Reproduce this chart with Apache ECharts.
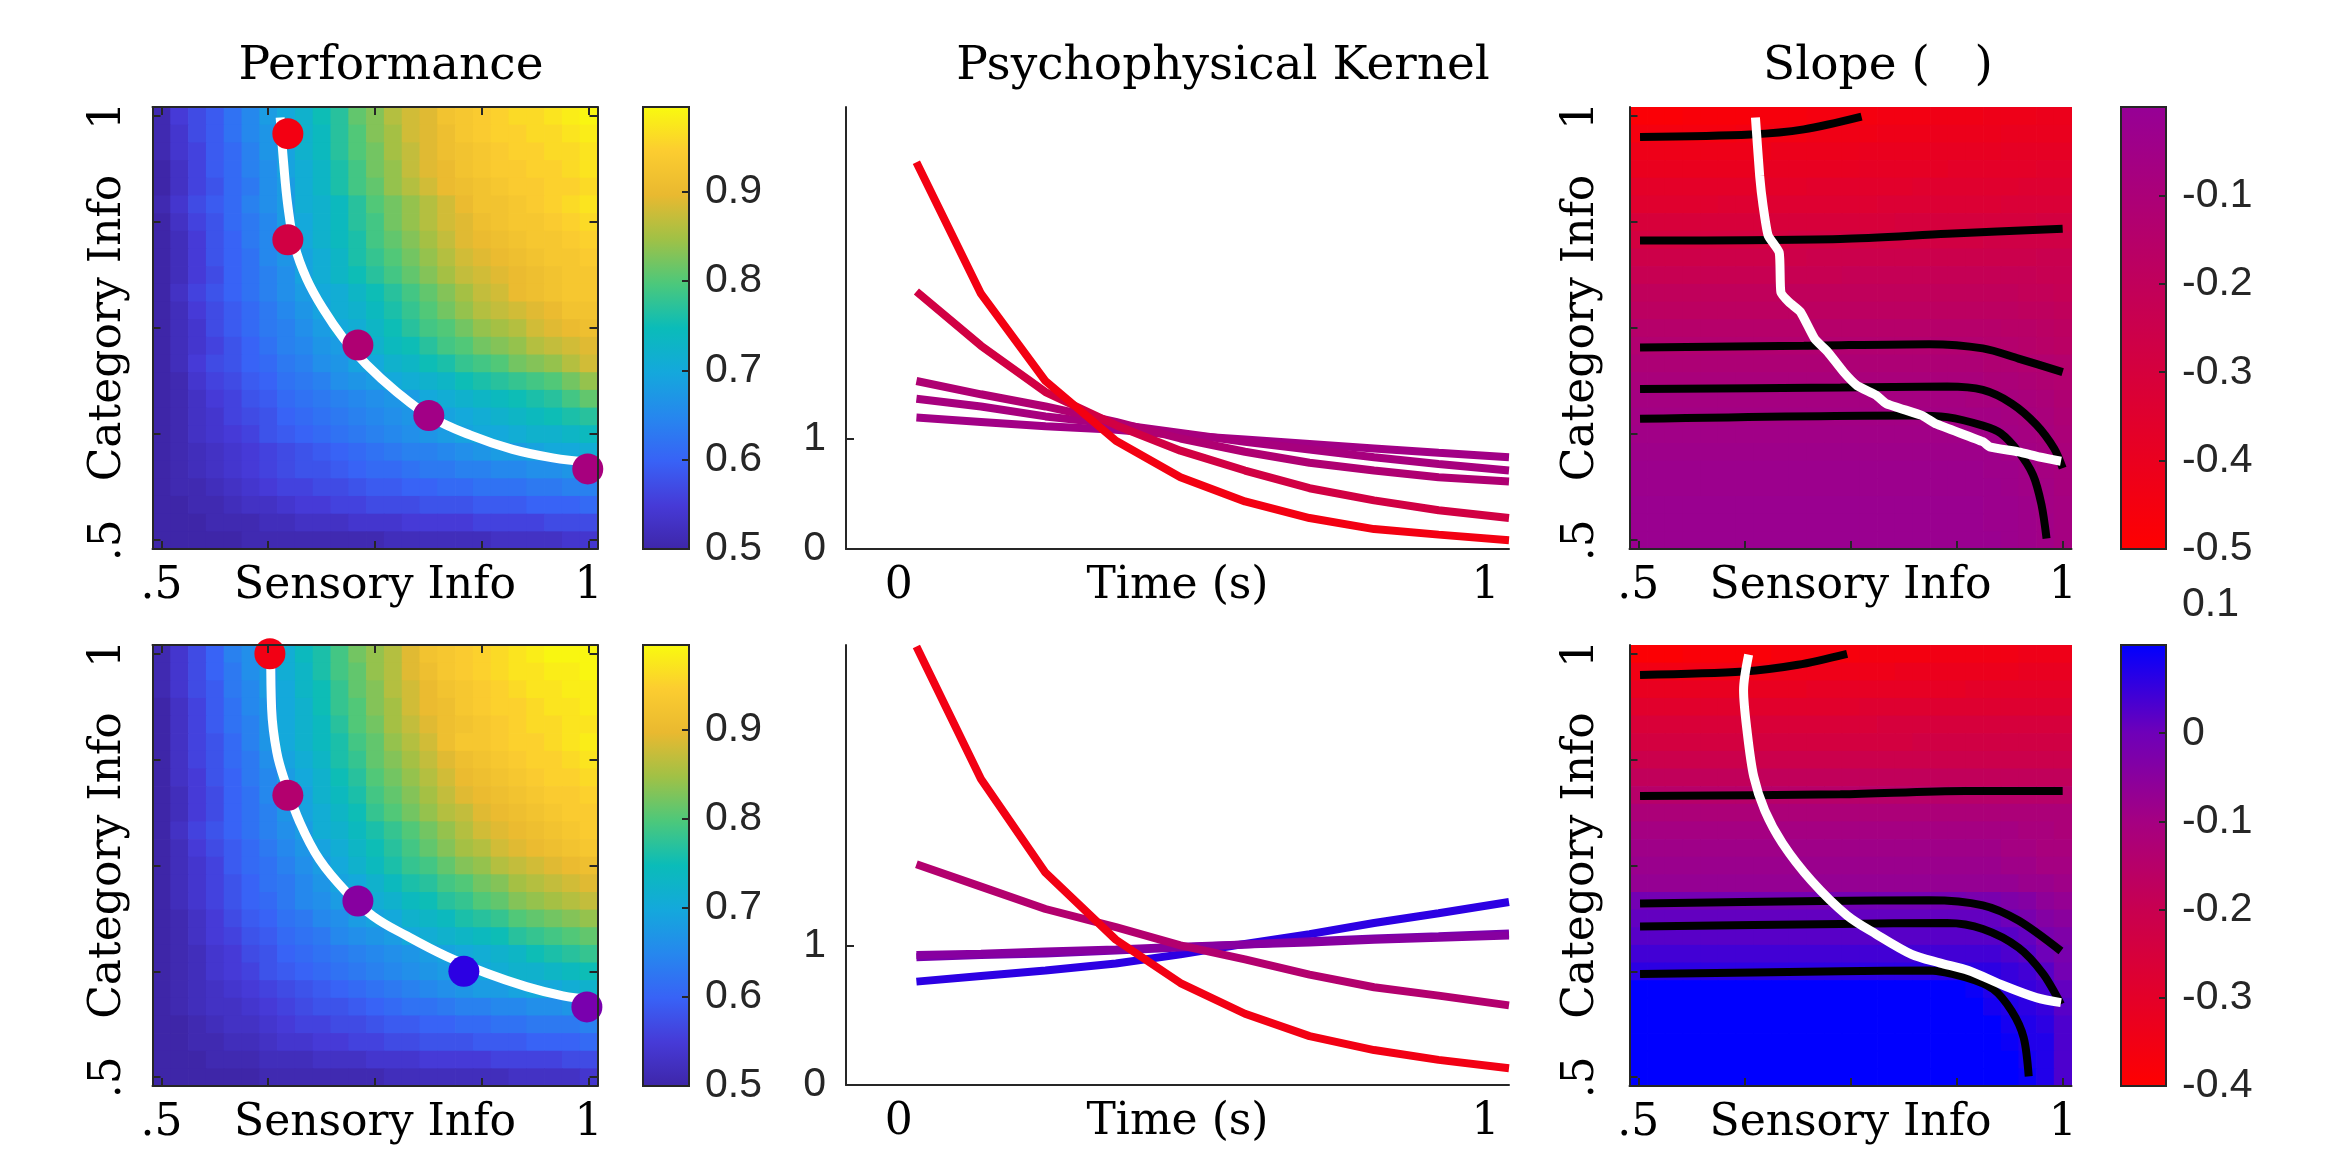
<!DOCTYPE html>
<html>
<head>
<meta charset="utf-8">
<script src="https://cdn.jsdelivr.net/npm/echarts@6/dist/echarts.min.js"></script>
<style>
  html, body { margin: 0; padding: 0; background: #ffffff; }
  #chart { width: 2333px; height: 1149px; }
</style>
</head>
<body>
<div id="chart"></div>
<script>
// ---------------------------------------------------------------------------
// Data
// ---------------------------------------------------------------------------

// Sampled information levels (same grid for sensory and category info)
const infoLevels = [0.5, 0.5208, 0.5417, 0.5625, 0.5833, 0.6042, 0.625, 0.6458, 0.6667,
  0.6875, 0.7083, 0.7292, 0.75, 0.7708, 0.7917, 0.8125, 0.8333, 0.8542, 0.875, 0.8958,
  0.9167, 0.9375, 0.9583, 0.9792, 1.0];

// Performance (percent correct), one row per category level, top row = category info 1
const perfTopRows = [
  '51 55 57 59 62 65 68 70 72 75 77 81 83 86 88 89 92 93 94 95 96 96 97 98 99',
  '51 54 57 59 62 65 67 70 72 74 77 80 83 85 88 89 91 93 94 95 95 96 96 97 98',
  '51 54 56 59 61 64 67 69 72 74 77 80 82 85 87 89 91 92 93 94 95 95 96 96 97',
  '50 53 56 59 61 64 66 69 71 73 76 79 82 84 87 89 90 92 93 94 94 95 95 96 97',
  '50 53 56 58 61 63 66 68 71 73 76 79 81 84 86 88 90 91 92 93 94 94 95 95 96',
  '51 54 57 59 61 64 66 68 71 72 74 77 80 82 84 86 88 90 92 92 93 94 95 96 97',
  '50 53 56 58 61 63 65 68 70 72 74 77 79 82 84 86 88 89 91 92 93 93 94 95 96',
  '50 52 55 58 60 63 65 67 70 72 74 76 79 81 83 85 87 89 90 91 92 93 93 94 95',
  '50 52 55 58 60 62 65 67 69 71 73 76 78 80 82 84 86 88 89 90 91 92 93 93 94',
  '50 52 55 57 60 62 64 66 69 71 73 75 77 79 81 83 85 87 88 89 90 91 92 93 93',
  '50 53 56 58 60 62 64 66 68 70 71 73 75 77 79 81 83 85 87 88 90 91 92 93 93',
  '50 52 55 57 59 61 63 65 67 69 71 72 74 76 78 80 82 84 86 87 88 89 90 92 92',
  '50 52 54 57 59 61 63 64 66 68 70 71 73 75 77 79 80 82 84 85 86 88 89 90 91',
  '50 52 54 56 58 60 62 64 65 67 68 70 72 74 75 77 79 80 82 83 84 86 87 88 89',
  '50 52 55 57 58 60 61 63 64 66 67 69 70 72 73 75 76 78 79 80 82 83 84 86 88',
  '50 51 54 56 57 59 60 62 63 64 66 67 68 70 71 72 73 75 76 77 78 79 80 82 84',
  '50 51 53 55 56 58 59 61 62 63 64 65 66 67 68 70 71 72 73 74 75 76 77 79 81',
  '50 51 53 54 56 57 58 60 61 62 63 64 65 66 67 68 69 70 71 72 73 74 75 76 77',
  '50 51 53 54 55 56 58 59 60 61 62 63 64 65 66 67 68 69 70 70 71 72 72 73 74',
  '50 51 52 53 54 55 56 57 58 59 60 61 62 63 64 64 65 66 67 68 68 69 70 70 71',
  '50 51 52 53 54 55 56 57 58 58 59 60 61 61 62 63 63 64 64 65 65 66 66 67 68',
  '50 51 51 52 53 54 55 56 56 57 57 58 59 59 60 60 61 61 62 62 62 63 63 64 64',
  '50 50 51 51 52 53 53 54 55 55 56 56 57 57 57 58 58 58 59 59 59 60 60 60 61',
  '50 50 50 51 51 51 52 52 53 53 53 54 54 54 55 55 55 55 56 56 56 56 57 57 57',
  '50 50 50 50 50 51 51 51 51 51 51 51 51 52 52 52 52 52 52 53 53 53 53 54 54'
];

const perfBottomRows = [
  '51 54 57 60 64 66 68 71 74 76 79 82 84 86 89 92 93 94 95 96 97 98 99 99 99',
  '51 54 57 60 63 66 68 71 73 76 79 81 84 86 89 91 93 94 95 96 97 97 98 98 99',
  '51 54 57 59 63 65 68 70 73 75 78 81 83 86 88 90 92 93 94 95 96 97 97 98 98',
  '50 53 56 59 62 65 67 70 72 75 78 80 83 85 88 90 91 93 94 95 95 96 97 97 98',
  '50 53 56 59 62 64 67 70 72 74 77 80 82 85 87 89 91 92 93 94 95 96 96 97 97',
  '50 53 56 58 61 64 67 70 72 74 76 79 81 84 86 88 91 93 93 94 95 95 96 97 98',
  '50 53 56 58 61 63 66 69 71 73 76 78 81 83 85 87 89 91 92 93 94 95 95 96 97',
  '50 53 55 58 60 63 65 68 70 72 75 77 80 82 84 86 88 90 91 92 93 94 95 95 96',
  '50 52 55 57 60 62 65 67 69 72 74 76 79 81 83 85 87 89 90 91 92 93 94 94 95',
  '50 52 55 57 60 62 64 67 69 71 73 75 78 80 82 84 86 87 89 90 91 92 93 94 94',
  '50 53 56 58 60 62 64 66 68 71 72 74 76 78 80 82 84 86 88 89 90 91 92 93 94',
  '50 52 55 57 59 61 63 65 67 69 71 73 75 77 79 81 83 85 86 88 89 90 91 92 93',
  '50 52 54 56 59 61 62 64 66 68 70 72 74 76 78 79 81 83 84 86 87 88 89 90 91',
  '50 52 54 56 58 60 62 63 65 67 69 70 72 74 76 77 79 80 82 83 85 86 87 88 89',
  '50 52 54 56 58 60 61 63 65 66 68 69 71 72 74 75 77 78 80 81 83 84 85 86 87',
  '50 51 53 55 57 59 60 62 63 65 66 68 69 70 72 73 74 76 77 78 80 81 82 83 84',
  '50 51 53 55 56 58 59 61 62 63 65 66 67 68 70 71 72 73 74 75 77 78 79 80 81',
  '50 51 52 54 55 57 58 60 61 62 63 64 65 66 67 68 69 70 71 72 73 75 76 77 78',
  '50 51 52 54 55 56 58 59 60 61 62 63 64 65 66 67 68 69 70 71 72 72 73 74 75',
  '50 51 52 53 54 55 56 57 58 59 60 61 62 63 64 65 66 67 68 68 69 70 70 71 72',
  '50 51 52 53 53 54 55 56 57 58 58 59 60 61 62 62 63 64 64 65 65 66 66 67 68',
  '50 50 51 52 53 53 54 55 56 56 57 57 58 59 59 60 60 61 61 62 62 63 63 63 64',
  '50 50 51 51 52 52 53 54 54 55 55 56 56 57 57 58 58 58 59 59 59 60 60 60 61',
  '50 50 50 51 51 51 52 52 52 53 53 53 54 54 54 55 55 55 55 56 56 56 56 57 57',
  '50 50 50 50 50 50 51 51 51 51 51 51 51 52 52 52 52 52 52 52 53 53 53 53 54'
];

// Kernel slope (x100), same row layout
const slopeTopRows = [
  '-48 -48 -48 -47 -47 -47 -47 -46 -46 -46 -45 -45 -45 -45 -44 -44 -44 -43 -43 -43 -42 -42 -42 -41 -41',
  '-45 -45 -45 -45 -45 -45 -44 -44 -44 -44 -43 -43 -43 -43 -42 -42 -42 -41 -41 -41 -41 -40 -40 -40 -40',
  '-42 -42 -42 -42 -42 -42 -42 -42 -41 -41 -41 -41 -41 -40 -40 -40 -40 -39 -39 -39 -39 -38 -38 -38 -38',
  '-40 -40 -40 -40 -40 -40 -40 -39 -39 -39 -39 -39 -39 -38 -38 -38 -38 -38 -37 -37 -37 -37 -37 -36 -36',
  '-37 -37 -37 -37 -37 -37 -37 -37 -37 -37 -36 -36 -36 -36 -36 -36 -35 -35 -35 -35 -35 -35 -34 -34 -34',
  '-35 -35 -35 -35 -35 -34 -34 -34 -34 -34 -34 -34 -34 -34 -33 -33 -33 -33 -33 -33 -33 -32 -32 -32 -32',
  '-31 -31 -31 -31 -31 -31 -31 -31 -31 -31 -31 -31 -31 -31 -31 -30 -30 -30 -30 -30 -30 -30 -30 -29 -29',
  '-29 -29 -29 -29 -29 -29 -29 -29 -29 -28 -28 -28 -28 -28 -28 -28 -28 -28 -28 -28 -27 -27 -27 -27 -27',
  '-26 -26 -26 -26 -26 -26 -26 -26 -26 -26 -25 -25 -25 -25 -25 -25 -25 -25 -25 -25 -25 -25 -25 -24 -24',
  '-23 -23 -23 -23 -23 -23 -23 -23 -23 -23 -23 -23 -22 -22 -22 -22 -22 -22 -22 -22 -22 -22 -22 -23 -23',
  '-20 -20 -20 -20 -20 -20 -20 -20 -20 -20 -20 -20 -20 -20 -20 -20 -20 -20 -20 -20 -20 -20 -21 -21 -22',
  '-18 -18 -18 -18 -18 -18 -18 -18 -18 -18 -18 -18 -18 -18 -18 -18 -18 -18 -18 -18 -18 -18 -19 -19 -20',
  '-15 -15 -15 -15 -15 -15 -15 -15 -15 -15 -15 -15 -15 -15 -15 -15 -15 -15 -15 -15 -15 -16 -16 -17 -18',
  '-13 -13 -13 -13 -13 -13 -13 -13 -13 -13 -13 -13 -13 -13 -13 -13 -13 -13 -13 -13 -14 -14 -15 -16 -17',
  '-11 -11 -11 -11 -11 -11 -11 -11 -11 -11 -11 -11 -11 -11 -11 -11 -11 -11 -11 -11 -12 -12 -13 -13 -14',
  '-9 -9 -9 -9 -9 -9 -9 -9 -9 -9 -9 -9 -9 -9 -9 -9 -9 -9 -9 -9 -10 -10 -11 -12 -13',
  '-7 -7 -7 -7 -7 -7 -7 -7 -7 -7 -7 -7 -7 -7 -7 -7 -7 -7 -7 -8 -8 -8 -9 -10 -12',
  '-6 -6 -6 -6 -6 -6 -6 -6 -6 -6 -6 -6 -6 -6 -6 -6 -6 -6 -6 -6 -6 -7 -8 -9 -11',
  '-5 -5 -5 -5 -5 -5 -5 -5 -5 -5 -5 -5 -5 -5 -5 -5 -5 -5 -5 -5 -5 -6 -7 -8 -10',
  '-4 -4 -4 -4 -4 -4 -4 -4 -4 -4 -4 -4 -4 -4 -4 -4 -4 -4 -4 -4 -4 -5 -6 -7 -9',
  '-3 -3 -3 -3 -3 -3 -3 -3 -3 -3 -3 -3 -3 -3 -3 -3 -3 -3 -3 -3 -4 -4 -5 -7 -8',
  '-3 -3 -3 -3 -3 -3 -3 -3 -3 -3 -3 -3 -3 -3 -3 -3 -3 -3 -3 -3 -3 -4 -5 -6 -8',
  '-2 -2 -2 -2 -2 -2 -2 -2 -2 -2 -2 -2 -2 -2 -2 -2 -2 -2 -2 -2 -3 -3 -4 -6 -7',
  '-2 -2 -2 -2 -2 -2 -2 -2 -2 -2 -2 -2 -2 -2 -2 -2 -2 -2 -2 -2 -3 -3 -4 -5 -7',
  '-2 -2 -2 -2 -2 -2 -2 -2 -2 -2 -2 -2 -2 -2 -2 -2 -2 -2 -2 -2 -2 -3 -4 -5 -7'
];

const slopeBottomRows = [
  '-39 -39 -39 -38 -38 -38 -38 -38 -37 -37 -37 -37 -37 -36 -36 -36 -36 -35 -35 -35 -35 -35 -34 -34 -34',
  '-35 -35 -35 -35 -35 -35 -35 -35 -34 -34 -34 -34 -34 -34 -34 -33 -33 -33 -33 -33 -33 -33 -32 -32 -32',
  '-32 -32 -32 -32 -32 -32 -32 -32 -32 -32 -31 -31 -31 -31 -31 -31 -31 -31 -31 -30 -30 -30 -30 -30 -30',
  '-29 -29 -29 -29 -29 -29 -29 -29 -29 -29 -29 -29 -29 -28 -28 -28 -28 -28 -28 -28 -28 -28 -28 -28 -28',
  '-26 -26 -26 -26 -26 -26 -26 -26 -26 -26 -26 -26 -26 -26 -25 -25 -25 -25 -25 -25 -25 -25 -25 -25 -25',
  '-24 -24 -24 -24 -24 -24 -24 -24 -24 -24 -24 -24 -24 -24 -24 -24 -23 -23 -23 -23 -23 -23 -23 -23 -23',
  '-21 -21 -21 -21 -21 -21 -21 -21 -21 -21 -21 -21 -21 -21 -21 -21 -21 -21 -21 -21 -21 -21 -21 -21 -21',
  '-18 -18 -18 -18 -18 -18 -18 -18 -18 -18 -18 -18 -18 -18 -18 -18 -18 -18 -18 -18 -18 -18 -18 -18 -18',
  '-15 -15 -15 -15 -15 -15 -15 -15 -15 -15 -15 -15 -15 -15 -15 -15 -15 -15 -15 -15 -15 -15 -15 -15 -15',
  '-12 -12 -12 -12 -12 -12 -12 -12 -12 -12 -12 -12 -12 -12 -12 -12 -12 -12 -12 -12 -12 -12 -12 -12 -12',
  '-10 -10 -10 -10 -10 -10 -10 -10 -10 -10 -10 -10 -10 -10 -10 -10 -10 -10 -10 -10 -10 -10 -11 -11 -12',
  '-9 -9 -9 -9 -9 -9 -9 -9 -9 -9 -9 -9 -9 -9 -9 -9 -9 -9 -9 -9 -9 -10 -10 -11 -11',
  '-8 -8 -8 -8 -8 -8 -8 -8 -8 -8 -8 -8 -8 -8 -8 -8 -8 -8 -8 -8 -8 -9 -9 -10 -10',
  '-7 -7 -7 -7 -7 -7 -7 -7 -7 -7 -7 -7 -7 -7 -7 -7 -7 -7 -7 -7 -7 -7 -8 -8 -9',
  '-1 -1 -1 -1 -1 -1 -1 -1 -1 -1 -1 -1 -1 -1 -1 -1 -1 -1 -1 -2 -2 -3 -4 -6 -7',
  '1 1 1 1 1 1 1 1 1 1 1 1 1 1 1 1 1 1 1 1 1 0 -2 -4 -5',
  '2 2 2 2 2 2 2 2 2 2 2 2 2 2 2 2 2 2 2 2 2 2 1 -2 -3',
  '4 4 4 4 4 4 4 4 4 4 4 4 4 4 4 4 4 4 4 4 4 3 2 0 -2',
  '6 6 6 6 6 6 6 6 6 6 6 6 6 6 6 6 6 6 6 6 6 5 4 2 -1',
  '10 10 10 10 10 10 10 10 10 10 10 10 10 10 10 10 10 10 10 9 7 6 5 4 1',
  '12 12 12 12 12 12 12 12 12 12 12 12 12 12 12 12 12 12 12 11 8 7 6 5 2',
  '14 14 14 14 14 14 14 14 14 14 14 14 14 14 14 14 14 14 14 13 10 8 7 6 3',
  '16 16 16 16 16 16 16 16 16 16 16 16 16 16 16 16 16 16 16 15 12 9 7 7 3',
  '17 17 17 17 17 17 17 17 17 17 17 17 17 17 17 17 17 17 17 16 13 10 8 7 3',
  '18 18 18 18 18 18 18 18 18 18 18 18 18 18 18 18 18 18 18 17 14 11 9 7 3'
];

// Iso-performance curves (sensory, category)
const isoTopSensory  = [0.639, 0.643, 0.648, 0.656, 0.670, 0.689, 0.713, 0.740, 0.775, 0.814, 0.861, 0.911, 0.958, 1.0];
const isoTopCategory = [0.998, 0.945, 0.894, 0.847, 0.808, 0.773, 0.738, 0.707, 0.675, 0.646, 0.624, 0.607, 0.597, 0.592];
const isoBottomSensory  = [0.628, 0.629, 0.635, 0.645, 0.662, 0.685, 0.717, 0.748, 0.787, 0.833, 0.880, 0.927, 0.970, 1.0];
const isoBottomCategory = [0.998, 0.935, 0.884, 0.848, 0.801, 0.757, 0.718, 0.690, 0.667, 0.643, 0.623, 0.607, 0.596, 0.592];

// Same iso-performance curves traced over the slope maps
const isoSlopeTopSensory  = [0.638, 0.643, 0.647, 0.653, 0.666, 0.668, 0.678, 0.691, 0.708, 0.723, 0.742, 0.758, 0.780, 0.792, 0.834, 0.851, 0.906, 0.914, 0.948, 0.973, 0.998];
const isoSlopeTopCategory = [0.998, 0.929, 0.894, 0.859, 0.839, 0.792, 0.780, 0.769, 0.737, 0.722, 0.698, 0.682, 0.671, 0.661, 0.647, 0.637, 0.616, 0.610, 0.604, 0.598, 0.593];
const isoSlopeBottomSensory  = [0.630, 0.624, 0.628, 0.636, 0.649, 0.670, 0.704, 0.746, 0.780, 0.822, 0.855, 0.889, 0.931, 0.969, 0.998];
const isoSlopeBottomCategory = [0.999, 0.957, 0.910, 0.855, 0.815, 0.776, 0.732, 0.691, 0.669, 0.645, 0.635, 0.626, 0.608, 0.594, 0.588];

// Slope contours through the five highlighted conditions: [sensory, category] pairs
const contourTop1 = [[0.502, 0.975], [0.632, 0.978], [0.695, 0.984], [0.763, 0.999]];
const contourTop2 = [[0.502, 0.853], [0.738, 0.855], [0.864, 0.861], [1.0, 0.867]];
const contourTop3 = [[0.502, 0.727], [0.695, 0.729], [0.843, 0.731], [0.906, 0.726], [0.948, 0.714], [1.0, 0.698]];
const contourTop4 = [[0.502, 0.678], [0.738, 0.680], [0.864, 0.681], [0.906, 0.677], [0.940, 0.661], [0.969, 0.636], [0.990, 0.608], [1.0, 0.585]];
const contourTop5 = [[0.502, 0.643], [0.822, 0.647], [0.864, 0.645], [0.906, 0.635], [0.927, 0.626], [0.948, 0.604], [0.965, 0.577], [0.975, 0.542], [0.981, 0.502]];
const contourBottom1 = [[0.502, 0.975], [0.624, 0.979], [0.688, 0.987], [0.746, 1.0]];
const contourBottom2 = [[0.502, 0.832], [0.738, 0.834], [0.885, 0.838], [1.0, 0.838]];
const contourBottom3 = [[0.502, 0.705], [0.716, 0.708], [0.843, 0.709], [0.906, 0.703], [0.948, 0.685], [0.998, 0.649]];
const contourBottom4 = [[0.502, 0.678], [0.738, 0.681], [0.864, 0.682], [0.906, 0.675], [0.948, 0.653], [0.977, 0.622], [0.998, 0.586]];
const contourBottom5 = [[0.502, 0.622], [0.738, 0.625], [0.843, 0.626], [0.885, 0.618], [0.918, 0.604], [0.940, 0.578], [0.954, 0.547], [0.960, 0.501]];

// Highlighted conditions
const dotTopSensory  = [0.648, 0.648, 0.730, 0.813, 0.999];
const dotTopCategory = [0.979, 0.854, 0.730, 0.647, 0.584];
const dotTopSlope    = [-0.44, -0.28, -0.12, -0.055, -0.08];
const dotBottomSensory  = [0.627, 0.648, 0.730, 0.854, 0.998];
const dotBottomCategory = [1.0, 0.833, 0.708, 0.625, 0.583];
const dotBottomSlope    = [-0.35, -0.14, -0.045, 0.06, -0.02];

// Psychophysical kernels, one per highlighted condition
const kernelTime = [0.03, 0.14, 0.25, 0.37, 0.48, 0.59, 0.70, 0.81, 0.92, 1.04];
const kernelTop1 = [3.50, 2.31, 1.52, 0.98, 0.65, 0.43, 0.28, 0.18, 0.13, 0.08];
const kernelTop2 = [2.33, 1.84, 1.42, 1.12, 0.89, 0.71, 0.55, 0.44, 0.35, 0.28];
const kernelTop3 = [1.52, 1.40, 1.29, 1.15, 1.00, 0.88, 0.78, 0.71, 0.65, 0.61];
const kernelTop4 = [1.19, 1.15, 1.11, 1.08, 1.03, 0.99, 0.95, 0.91, 0.87, 0.83];
const kernelTop5 = [1.36, 1.29, 1.20, 1.13, 1.05, 0.97, 0.90, 0.83, 0.77, 0.71];
const kernelBottom1 = [3.14, 2.19, 1.52, 1.04, 0.73, 0.51, 0.35, 0.25, 0.18, 0.12];
const kernelBottom2 = [1.58, 1.42, 1.26, 1.13, 1.00, 0.90, 0.79, 0.70, 0.64, 0.57];
const kernelBottom3 = [0.93, 0.94, 0.955, 0.97, 0.99, 1.005, 1.02, 1.04, 1.055, 1.07];
const kernelBottom4 = [0.74, 0.78, 0.82, 0.87, 0.935, 1.01, 1.08, 1.16, 1.23, 1.31];
const kernelBottom5 = [0.915, 0.93, 0.942, 0.962, 0.985, 1.005, 1.03, 1.048, 1.065, 1.085];

// Axis ticks and labels
const heatTickValues = [0.5, 0.625, 0.75, 0.875, 1.0];
const heatLabelValues = [0.5, 1.0];
const heatLabelText = ['.5', '1'];
const kernelLabelValues = [0, 1];
const perfBarRange = [0.5, 0.995];
const perfBarTicks = [0.5, 0.6, 0.7, 0.8, 0.9];
const slopeTopBarRange = [-0.5, 0];
const slopeTopBarTicks = [-0.5, -0.4, -0.3, -0.2, -0.1];
const slopeBottomBarRange = [-0.4, 0.1];
const slopeBottomBarTicks = [-0.4, -0.3, -0.2, -0.1, 0, 0.1];

// ---------------------------------------------------------------------------
// Styles
// ---------------------------------------------------------------------------
const SERIF = '"DejaVu Serif", "Liberation Serif", serif';
const SANS = '"Liberation Sans", Arial, sans-serif';
const AX = '#262626';
const SERIF_SIZE = 44;
const TITLE_SIZE = 47;
const SANS_SIZE = 41;
const X_LABEL_GAP = 16;

const parulaScale = { min: 0.5, max: 0.995, colors: ['#3e26a8', '#463ad7', '#3862f6', '#2687ee', '#14a8dc', '#0abcb9', '#4cc87b', '#a0c146', '#e9b930', '#fccd30', '#f9fb0e'] };
const slopeTopScale = { min: -0.5, max: 0, colors: ['#ff0000', '#cb004c', '#960096'] };
const slopeBottomScale = { min: -0.4, max: 0.2, colors: ['#ff0000', '#e40028', '#c80050', '#a50082', '#6e00b9', '#0000ff', '#0000ff'] };

// ---------------------------------------------------------------------------
// Helpers
// ---------------------------------------------------------------------------
function parseRows(rows, divisor) {
  return rows.map(r => r.trim().split(/\s+/).map(s => Number(s) / divisor));
}
function cellData(rows) {
  const out = [];
  const n = infoLevels.length;
  rows.forEach((row, r) => row.forEach((v, c) => out.push([infoLevels[c], infoLevels[n - 1 - r], v])));
  return out;
}
function hexToRgb(h) {
  return [parseInt(h.substr(1, 2), 16), parseInt(h.substr(3, 2), 16), parseInt(h.substr(5, 2), 16)];
}
function scaleColor(v, scale) {
  const n = scale.colors.length;
  let t = (v - scale.min) / (scale.max - scale.min);
  t = Math.max(0, Math.min(1, t)) * (n - 1);
  const i = Math.min(n - 2, Math.floor(t));
  const f = t - i;
  const a = hexToRgb(scale.colors[i]), b = hexToRgb(scale.colors[i + 1]);
  const c = a.map((x, k) => Math.round(x + (b[k] - x) * f));
  return 'rgb(' + c.join(',') + ')';
}
function barGradient(scale, range) {
  const n = scale.colors.length;
  const stops = [];
  scale.colors.forEach((c, i) => {
    const v = scale.min + (scale.max - scale.min) * i / (n - 1);
    const off = (v - range[0]) / (range[1] - range[0]);
    if (off >= -1e-9 && off <= 1 + 1e-9) stops.push({ offset: Math.max(0, Math.min(1, off)), color: c });
  });
  return new echarts.graphic.LinearGradient(0, 1, 0, 0, stops);
}

const halfStep = (infoLevels[1] - infoLevels[0]) / 2;
const heatMin = infoLevels[0] - halfStep;
const heatMax = infoLevels[infoLevels.length - 1] + halfStep;

const xAxes = [], yAxes = [], grids = [], series = [], visualMaps = [];

function addGrid(left, top, width, height) {
  grids.push({ left, top, width, height, containLabel: false });
  return grids.length - 1;
}

const serifText = { fontFamily: SERIF, fontSize: SERIF_SIZE, color: '#000' };
const lineStyleAx = { color: AX, width: 2 };

function heatAxes(g, box, yGap) {
  const xi = xAxes.length;
  xAxes.push({
    type: 'value', gridIndex: g, min: heatMin, max: heatMax, position: 'bottom', z: 10,
    axisLine: { show: true, onZero: false, lineStyle: lineStyleAx },
    axisTick: { show: true, inside: true, length: 8, customValues: heatTickValues, lineStyle: lineStyleAx },
    axisLabel: { customValues: heatLabelValues, formatter: v => heatLabelText[heatLabelValues.indexOf(v)], margin: X_LABEL_GAP, ...serifText },
    splitLine: { show: false },
    name: 'Sensory Info', nameLocation: 'middle', nameGap: X_LABEL_GAP, nameMoveOverlap: false, nameTextStyle: serifText
  });
  if (box) {
    xAxes.push({
      type: 'value', gridIndex: g, min: heatMin, max: heatMax, position: 'top', z: 10,
      axisLine: { show: true, onZero: false, lineStyle: lineStyleAx },
      axisTick: { show: true, inside: true, length: 8, customValues: heatTickValues, lineStyle: lineStyleAx },
      axisLabel: { show: false }, splitLine: { show: false }
    });
  }
  const yi = yAxes.length;
  yAxes.push({
    type: 'value', gridIndex: g, min: heatMin, max: heatMax, position: 'left', z: 10,
    axisLine: { show: true, onZero: false, lineStyle: lineStyleAx },
    axisTick: { show: true, inside: true, length: 8, customValues: heatTickValues, lineStyle: lineStyleAx },
    axisLabel: { customValues: heatLabelValues, formatter: v => heatLabelText[heatLabelValues.indexOf(v)], rotate: 90, margin: yGap, ...serifText },
    splitLine: { show: false },
    name: 'Category Info', nameLocation: 'middle', nameGap: yGap, nameRotate: 90, nameMoveOverlap: false, nameTextStyle: serifText
  });
  if (box) {
    yAxes.push({
      type: 'value', gridIndex: g, min: heatMin, max: heatMax, position: 'right', z: 10,
      axisLine: { show: true, onZero: false, lineStyle: lineStyleAx },
      axisTick: { show: true, inside: true, length: 8, customValues: heatTickValues, lineStyle: lineStyleAx },
      axisLabel: { show: false }, splitLine: { show: false }
    });
  }
  return [xi, yi];
}

function renderCell(params, api) {
  const x = api.value(0), y = api.value(1);
  const a = api.coord([x - halfStep, y + halfStep]);
  const b = api.coord([x + halfStep, y - halfStep]);
  return {
    type: 'rect',
    shape: { x: a[0], y: a[1], width: b[0] - a[0] + 0.8, height: b[1] - a[1] + 0.8 },
    style: { fill: api.visual('color') }
  };
}

function addHeatPanel(cfg) {
  const g = addGrid(cfg.left, cfg.top, cfg.width, cfg.height);
  const [xi, yi] = heatAxes(g, cfg.box, cfg.yGap);
  const sIdx = series.length;
  series.push({
    type: 'custom', xAxisIndex: xi, yAxisIndex: yi, clip: true,
    renderItem: renderCell, data: cellData(cfg.rows), silent: true, z: 1
  });
  visualMaps.push({
    type: 'continuous', show: false, seriesIndex: sIdx, dimension: 2,
    min: cfg.scale.min, max: cfg.scale.max, inRange: { color: cfg.scale.colors }
  });
  (cfg.contours || []).forEach(c => {
    series.push({
      type: 'line', xAxisIndex: xi, yAxisIndex: yi, data: c, showSymbol: false, smooth: 0.3,
      lineStyle: { color: '#000', width: 8 }, z: 3, silent: true
    });
  });
  series.push({
    type: 'line', xAxisIndex: xi, yAxisIndex: yi,
    data: cfg.isoX.map((x, i) => [x, cfg.isoY[i]]),
    showSymbol: false, smooth: cfg.isoSmooth, lineStyle: { color: '#ffffff', width: 9 }, z: 4, silent: true
  });
  if (cfg.dotX) {
    series.push({
      type: 'scatter', xAxisIndex: xi, yAxisIndex: yi, clip: false, symbolSize: 31, z: 5,
      data: cfg.dotX.map((x, i) => ({ value: [x, cfg.dotY[i]], itemStyle: { color: scaleColor(cfg.dotS[i], cfg.dotScale), opacity: 1 } }))
    });
  }
}

function addColorbar(cfg) {
  const g = addGrid(cfg.left, cfg.top, cfg.width, cfg.height);
  const xi = xAxes.length;
  xAxes.push({ type: 'value', gridIndex: g, min: 0, max: 1, show: false });
  const yi = yAxes.length;
  yAxes.push({
    type: 'value', gridIndex: g, min: cfg.range[0], max: cfg.range[1], position: 'right', z: 10,
    axisLine: { show: false, onZero: false },
    axisTick: { show: true, inside: true, length: 7, customValues: cfg.ticks.filter(t => t < cfg.range[1] + 1e-9), lineStyle: lineStyleAx },
    axisLabel: {
      customValues: cfg.ticks, margin: 16, fontFamily: SANS, fontSize: SANS_SIZE, color: AX,
      formatter: cfg.formatter || (v => String(v)), rich: cfg.rich || {}
    },
    splitLine: { show: false }
  });
  const grad = barGradient(cfg.scale, cfg.range);
  series.push({
    type: 'custom', xAxisIndex: xi, yAxisIndex: yi, silent: true, z: 1,
    data: [[0.5, cfg.range[0]]],
    renderItem: (params, api) => {
      const a = api.coord([0, cfg.range[1]]);
      const b = api.coord([1, cfg.range[0]]);
      return {
        type: 'rect',
        shape: { x: a[0], y: a[1], width: b[0] - a[0], height: b[1] - a[1] },
        style: { fill: grad, stroke: AX, lineWidth: 2 }
      };
    }
  });
}

function addKernelPanel(cfg) {
  const g = addGrid(cfg.left, cfg.top, cfg.width, cfg.height);
  const xi = xAxes.length;
  xAxes.push({
    type: 'value', gridIndex: g, min: -0.09, max: 1.04,
    axisLine: { show: true, onZero: false, lineStyle: lineStyleAx },
    axisTick: { show: false },
    axisLabel: { customValues: kernelLabelValues, formatter: v => String(v), margin: X_LABEL_GAP, ...serifText },
    splitLine: { show: false },
    name: 'Time (s)', nameLocation: 'middle', nameGap: X_LABEL_GAP, nameMoveOverlap: false, nameTextStyle: serifText
  });
  const yi = yAxes.length;
  yAxes.push({
    type: 'value', gridIndex: g, min: 0, max: cfg.yMax,
    axisLine: { show: true, onZero: false, lineStyle: lineStyleAx },
    axisTick: { show: true, inside: true, length: 8, customValues: kernelLabelValues, lineStyle: lineStyleAx },
    axisLabel: { customValues: kernelLabelValues, formatter: v => String(v), margin: 20, fontFamily: SANS, fontSize: SANS_SIZE, color: AX },
    splitLine: { show: false }
  });
  cfg.order.forEach(k => {
    series.push({
      type: 'line', xAxisIndex: xi, yAxisIndex: yi, showSymbol: false, silent: true,
      data: kernelTime.map((t, i) => [t, cfg.kernels[k][i]]),
      lineStyle: { color: scaleColor(cfg.slopes[k], cfg.scale), width: 8, cap: 'butt' }
    });
  });
}

// ---------------------------------------------------------------------------
// Panels
// ---------------------------------------------------------------------------
const perfTop = parseRows(perfTopRows, 100);
const perfBottom = parseRows(perfBottomRows, 100);
const slopeTop = parseRows(slopeTopRows, 100);
const slopeBottom = parseRows(slopeBottomRows, 100);

// Top row
addHeatPanel({
  left: 152.5, top: 107, width: 445, height: 442, box: true, yGap: 22,
  rows: perfTop, scale: parulaScale, isoX: isoTopSensory, isoY: isoTopCategory, isoSmooth: 0.4,
  dotX: dotTopSensory, dotY: dotTopCategory, dotS: dotTopSlope, dotScale: slopeTopScale
});
addColorbar({ left: 643, top: 107, width: 46, height: 442, scale: parulaScale, range: perfBarRange, ticks: perfBarTicks });
addKernelPanel({
  left: 846, top: 107, width: 663, height: 442, yMax: 4,
  kernels: [kernelTop1, kernelTop2, kernelTop3, kernelTop4, kernelTop5],
  slopes: dotTopSlope, scale: slopeTopScale, order: [3, 4, 2, 1, 0]
});
addHeatPanel({
  left: 1629.5, top: 107, width: 442, height: 442, box: false, yGap: 26,
  rows: slopeTop, scale: slopeTopScale, isoX: isoSlopeTopSensory, isoY: isoSlopeTopCategory, isoSmooth: 0.15,
  contours: [contourTop1, contourTop2, contourTop3, contourTop4, contourTop5]
});
addColorbar({ left: 2121, top: 107, width: 45, height: 442, scale: slopeTopScale, range: slopeTopBarRange, ticks: slopeTopBarTicks });

// Bottom row
addHeatPanel({
  left: 152.5, top: 645, width: 445, height: 441, box: true, yGap: 22,
  rows: perfBottom, scale: parulaScale, isoX: isoBottomSensory, isoY: isoBottomCategory, isoSmooth: 0.4,
  dotX: dotBottomSensory, dotY: dotBottomCategory, dotS: dotBottomSlope, dotScale: slopeBottomScale
});
addColorbar({ left: 643, top: 645, width: 46, height: 441, scale: parulaScale, range: perfBarRange, ticks: perfBarTicks });
addKernelPanel({
  left: 846, top: 645, width: 663, height: 440, yMax: 3.15,
  kernels: [kernelBottom1, kernelBottom2, kernelBottom3, kernelBottom4, kernelBottom5],
  slopes: dotBottomSlope, scale: slopeBottomScale, order: [3, 4, 2, 1, 0]
});
addHeatPanel({
  left: 1629.5, top: 645, width: 442, height: 441, box: false, yGap: 26,
  rows: slopeBottom, scale: slopeBottomScale, isoX: isoSlopeBottomSensory, isoY: isoSlopeBottomCategory, isoSmooth: 0.3,
  contours: [contourBottom1, contourBottom2, contourBottom3, contourBottom4, contourBottom5]
});
addColorbar({
  left: 2121, top: 645, width: 45, height: 441, scale: slopeBottomScale, range: slopeBottomBarRange,
  ticks: slopeBottomBarTicks,
  formatter: v => (Math.abs(v - slopeBottomBarRange[1]) < 1e-9 ? '{raised|' + v + '}' : String(v)),
  rich: { raised: { fontFamily: SANS, fontSize: SANS_SIZE, color: AX, padding: [0, 0, 80, 0] } }
});

// Panel titles
const titles = [
  { text: 'Performance', x: 391 },
  { text: 'Psychophysical Kernel', x: 1223 },
  { text: 'Slope (\u00a0\u00a0\u00a0)', x: 1878 }
];

const chart = echarts.init(document.getElementById('chart'), null, { renderer: 'canvas' });
chart.setOption({
  backgroundColor: '#ffffff',
  animation: false,
  grid: grids,
  xAxis: xAxes,
  yAxis: yAxes,
  visualMap: visualMaps,
  series: series,
  graphic: titles.map(t => ({
    type: 'text', x: t.x, y: 67, silent: true,
    style: { text: t.text, fontFamily: SERIF, fontSize: TITLE_SIZE, fill: '#000', textAlign: 'center', textVerticalAlign: 'middle' }
  }))
});
</script>
</body>
</html>
